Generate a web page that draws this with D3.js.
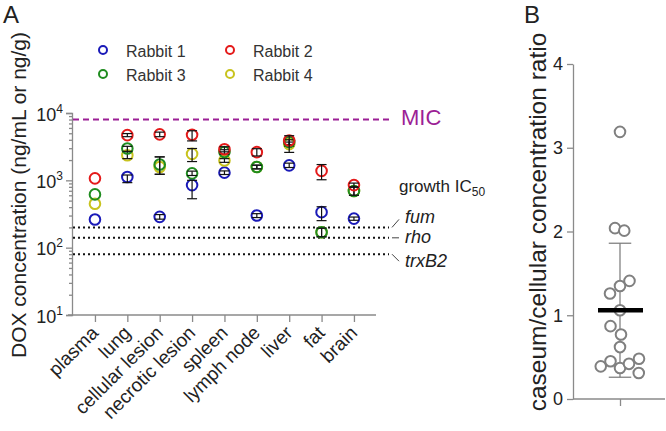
<!DOCTYPE html>
<html>
<head>
<meta charset="utf-8">
<style>
  body { margin: 0; background: #fff; }
  svg text { font-family: "Liberation Sans", Arial, sans-serif; fill: #222; }
  .axis path, .axis line { stroke: #8a8a8a; stroke-width: 1.3; }
</style>
</head>
<body>
<script src="https://cdn.jsdelivr.net/npm/d3@7"></script>
<script>
// ---- panel A data ----
var tissues = ["plasma", "lung", "cellular lesion", "necrotic lesion", "spleen", "lymph node", "liver", "fat", "brain"];
var rabbitNames = ["Rabbit 1", "Rabbit 2", "Rabbit 3", "Rabbit 4"];
var rabbitColors = ["#1a1ab8", "#e41a1a", "#1f8c1f", "#c8c31e"];
var rabbit1 = [262, 1120, 287, 850, 1300, 300, 1670, 337, 270];
var rabbit2 = [1070, 4690, 4820, 4740, 2900, 2620, 3910, 1380, 850];
var rabbit3 = [618, 2970, 1715, 1270, 2640, 1580, 3700, 169, 693];
var rabbit4 = [449, 2360, 1580, 2470, 1970, 1580, 3450, 169, 693];
// error bars [low, high], null = no bar
var err1 = [null, [924, 1200], [265, 310], [533, 1000], [1220, 1380], [280, 320], [1550, 1800], [252, 405], [255, 285]];
var err2 = [null, [4450, 4950], [4450, 5200], [3850, 5450], [2650, 3150], [2300, 2950], [2600, 4600], [1020, 1715], [790, 910]];
var err3 = [null, [2700, 3200], [1230, 2230], [1180, 1370], [2450, 2850], [1480, 1680], [3400, 4000], [145, 195], [600, 800]];
var err4 = [null, [2100, 2650], [1230, 2230], [1900, 2970], [1850, 2100], [1480, 1680], [3200, 3700], [145, 195], [600, 800]];
var micValue = 8000;
var icValues = [200, 140, 80];
var icNames = ["fum", "rho", "trxB2"];
var yTicksA = [10, 100, 1000, 10000];

// ---- panel B data ----
var ratios = [3.19, 2.04, 2.01, 1.41, 1.35, 1.26, 1.06, 0.87, 0.77, 0.62, 0.39, 0.45, 0.37, 0.42, 0.48, 0.31];
var jitter = [0, -0.2, 0.17, 0.38, 0, -0.4, 0, -0.38, 0.04, 0, -0.77, -0.38, 0, 0.36, 0.76, 0.75];
var ratioMean = 1.06, ratioLo = 0.26, ratioHi = 1.86;

var svg = d3.select("body").append("svg").attr("width", 666).attr("height", 431);

// ===== Panel A =====
var x = d3.scalePoint().domain(tissues).range([68, 376]).padding(0.757).align(0.55);
var y = d3.scaleLog().domain([10, 10000]).range([315, 113]);

// minor ticks
var minor = [];
[10, 100, 1000].forEach(function(d) { for (var k = 2; k < 10; k++) minor.push(d * k); });
svg.append("g").attr("class", "axis").attr("transform", "translate(72,0)")
  .call(d3.axisLeft(y).tickValues(minor).tickSize(3).tickFormat(""))
  .select(".domain").remove();
var yAx = svg.append("g").attr("class", "axis").attr("transform", "translate(72,0)")
  .call(d3.axisLeft(y).tickValues(yTicksA).tickSizeOuter(0).tickSize(6).tickFormat(""));
yAx.selectAll(".tick").append("text")
  .attr("x", -9).attr("y", 7).attr("text-anchor", "end")
  .style("font-size", "18px")
  .each(function(d) {
    var t = d3.select(this);
    t.append("tspan").text("10");
    t.append("tspan").attr("dy", -8).style("font-size", "12px").text(Math.round(Math.log10(d)));
  });

var xAx = svg.append("g").attr("class", "axis").attr("transform", "translate(0,315)")
  .call(d3.axisBottom(x).tickSize(7).tickSizeOuter(0));
xAx.select(".domain").attr("d", "M68,0H376");
xAx.selectAll("text")
  .attr("text-anchor", "end")
  .attr("transform", "translate(4,19) rotate(-45)")
  .attr("x", 0).attr("y", 0).attr("dy", 0)
  .style("font-size", "19px").style("fill", "#222");

// axis title
svg.append("text")
  .attr("transform", "translate(26,195) rotate(-90)")
  .attr("text-anchor", "middle")
  .style("font-size", "21px")
  .text("DOX concentration (ng/mL or ng/g)");
svg.append("text").attr("x", 3).attr("y", 22.5).style("font-size", "24px").text("A");

// MIC line
svg.append("line").attr("x1", 73).attr("x2", 390)
  .attr("y1", y(micValue)).attr("y2", y(micValue))
  .attr("stroke", "#9c1f95").attr("stroke-width", 2).attr("stroke-dasharray", "6,4");
svg.append("text").attr("x", 401).attr("y", 125)
  .style("font-size", "22px").style("fill", "#9c1f95").text("MIC");

// IC50 lines
svg.selectAll(".ic").data(icValues).enter().append("line")
  .attr("x1", 73).attr("x2", 389)
  .attr("y1", function(d) { return y(d); }).attr("y2", function(d) { return y(d); })
  .attr("stroke", "#111").attr("stroke-width", 2).attr("stroke-dasharray", "2,3");
var gt = svg.append("text").attr("x", 399).attr("y", 191.5).style("font-size", "17px");
gt.append("tspan").text("growth IC");
gt.append("tspan").attr("dy", 4).style("font-size", "12px").text("50");
// little leader strokes from the line ends to the italic labels
var leadDy = [-8, 0, 7];
var icBase = [223, 243, 267];
icValues.forEach(function(v, i) {
  var yy = y(v);
  svg.append("line").attr("x1", 392).attr("y1", yy)
    .attr("x2", 399).attr("y2", yy + leadDy[i])
    .attr("stroke", "#444").attr("stroke-width", 1);
  svg.append("text").attr("x", 405).attr("y", icBase[i])
    .style("font-size", "18px").style("font-style", "italic").text(icNames[i]);
});

// points, drawn in the order 1,4,3,2 so red sits on top
var series = [
  { vals: rabbit1, err: err1, color: rabbitColors[0] },
  { vals: rabbit4, err: err4, color: rabbitColors[3] },
  { vals: rabbit3, err: err3, color: rabbitColors[2] },
  { vals: rabbit2, err: err2, color: rabbitColors[1] }
];
series.forEach(function(s) {
  var g = svg.append("g");
  s.vals.forEach(function(v, i) {
    var cx = x(tissues[i]);
    g.append("circle").attr("cx", cx).attr("cy", y(v)).attr("r", 5.3)
      .attr("fill", "none").attr("stroke", s.color).attr("stroke-width", 2);
    var e = s.err[i];
    if (e) {
      g.append("line").attr("x1", cx).attr("x2", cx).attr("y1", y(e[0])).attr("y2", y(e[1]))
        .attr("stroke", "#111").attr("stroke-width", 1.2);
      e.forEach(function(b) {
        g.append("line").attr("x1", cx - 5).attr("x2", cx + 5).attr("y1", y(b)).attr("y2", y(b))
          .attr("stroke", "#111").attr("stroke-width", 1.2);
      });
    }
  });
});

// legend
var legPos = [[103, 50], [230, 50], [103, 74], [230, 74]];
rabbitNames.forEach(function(n, i) {
  svg.append("circle").attr("cx", legPos[i][0]).attr("cy", legPos[i][1]).attr("r", 4)
    .attr("fill", "none").attr("stroke", rabbitColors[i]).attr("stroke-width", 2);
  svg.append("text").attr("x", legPos[i][0] + 23).attr("y", legPos[i][1] + 6.5)
    .style("font-size", "16px").style("fill", "#333").text(n);
});

// ===== Panel B =====
var yB = d3.scaleLinear().domain([0, 4]).range([399, 64]);
var xB = d3.scaleLinear().domain([-1, 1]).range([595, 645]);

svg.append("g").attr("class", "axis").attr("transform", "translate(573,0)")
  .call(d3.axisLeft(yB).ticks(4).tickSize(6).tickSizeOuter(0).tickPadding(4))
  .selectAll("text").style("font-size", "18px").style("fill", "#222");
var bx = svg.append("g").attr("class", "axis").attr("transform", "translate(0,399)")
  .call(d3.axisBottom(xB).tickValues([0]).tickSize(7).tickSizeOuter(0).tickFormat(""));
bx.select(".domain").attr("d", "M573,0H665");

svg.append("text")
  .attr("transform", "translate(546,222) rotate(-90)")
  .attr("text-anchor", "middle")
  .style("font-size", "24.5px")
  .text("caseum/cellular concentration ratio");
svg.append("text").attr("x", 524).attr("y", 22.5).style("font-size", "24px").text("B");

// SD bar
svg.append("line").attr("x1", xB(0)).attr("x2", xB(0)).attr("y1", yB(ratioLo)).attr("y2", yB(ratioHi))
  .attr("stroke", "#777").attr("stroke-width", 1.2);
[ratioLo, ratioHi].forEach(function(b) {
  svg.append("line").attr("x1", xB(-0.45)).attr("x2", xB(0.45)).attr("y1", yB(b)).attr("y2", yB(b))
    .attr("stroke", "#777").attr("stroke-width", 1.2);
});

svg.selectAll(".rp").data(ratios).enter().append("circle")
  .attr("cx", function(d, i) { return xB(jitter[i]); })
  .attr("cy", function(d) { return yB(d); })
  .attr("r", 5.3).attr("fill", "#fff").attr("stroke", "#808080").attr("stroke-width", 2);

svg.append("line").attr("x1", xB(-0.88)).attr("x2", xB(0.92)).attr("y1", yB(ratioMean)).attr("y2", yB(ratioMean))
  .attr("stroke", "#000").attr("stroke-width", 4.5);
</script>
</body>
</html>
